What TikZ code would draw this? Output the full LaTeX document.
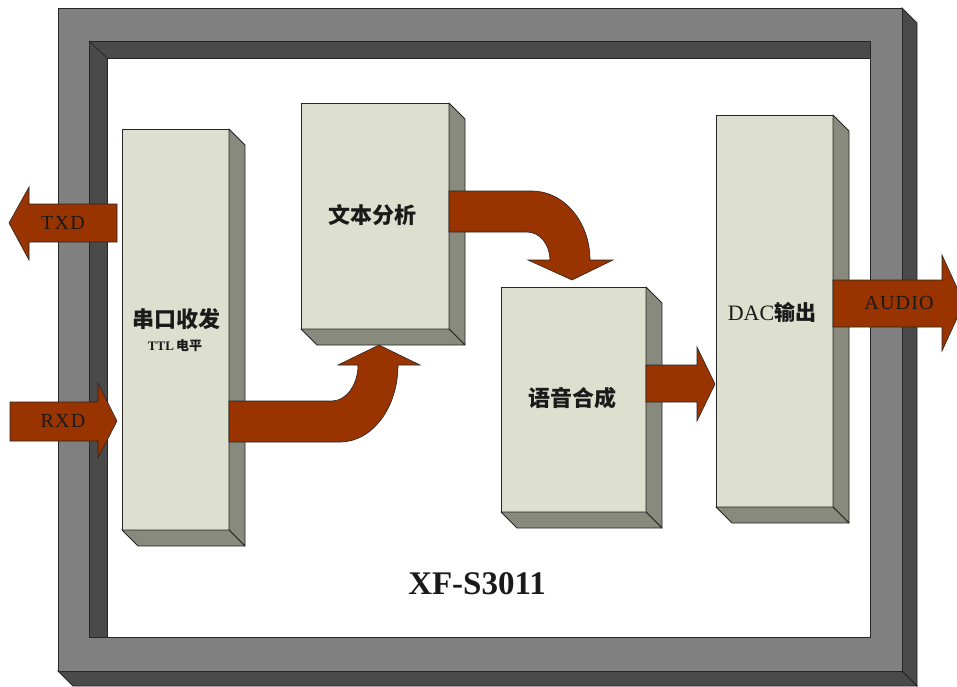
\documentclass[tikz,border=0pt]{standalone}
\usepackage{fontspec}
\setmainfont{Liberation Serif}
\newfontfamily\cjk{Noto Sans CJK SC}
\newfontfamily\arrfont[LetterSpace=6]{Liberation Serif}
\definecolor{facec}{HTML}{DDE0CE}
\definecolor{sidec}{HTML}{878A7D}
\definecolor{frameg}{HTML}{808080}
\definecolor{framed}{HTML}{4A4A4A}
\definecolor{arrowc}{HTML}{993300}
\definecolor{edgec}{HTML}{262626}
\definecolor{txtc}{HTML}{1A1A1A}
\tikzset{
  blockface/.style={draw=edgec, line width=0.8pt, fill=facec, inner sep=0pt, outer sep=0pt, anchor=north west},
  sideface/.style={draw=edgec, line width=0.8pt, fill=sidec, line join=round},
  bigarrow/.style={draw=edgec, line width=0.6pt, fill=arrowc, line join=miter},
  framefront/.style={draw=edgec, line width=0.8pt, fill=frameg},
  framedark/.style={draw=edgec, line width=0.8pt, fill=framed},
  cjklabel/.style={text=txtc, inner sep=0pt, font=\cjk\bfseries\fontsize{22}{25}\selectfont},
  arrlabel/.style={text=txtc, inner sep=0pt, font=\arrfont\fontsize{20}{24}\selectfont},
}
\begin{document}
\begin{tikzpicture}[x=1pt,y=-1pt]
\useasboundingbox (0,0) rectangle (957,686);
\fill[white] (0,0) rectangle (957,686);

% ---- outer frame ----
\draw[framedark] (902,8) -- (917,23) -- (917,686) -- (902,671) -- cycle;
\draw[framedark] (58,671) -- (902,671) -- (917,686) -- (73,686) -- cycle;
\draw[framefront] (58,8) rectangle (902,671);
\draw[framedark] (89,41) rectangle (870,637);
\draw[edgec, line width=0.8pt, fill=white] (107,58) -- (870,58) -- (870,637) -- (107,637) -- cycle;
\draw[edgec, line width=0.8pt] (89,41) -- (107,58);

% ---- blocks ----
\node[blockface, minimum width=107, minimum height=401] (b1) at (122,129) {};
\node[blockface, minimum width=148, minimum height=226] (b2) at (301,103) {};
\node[blockface, minimum width=145, minimum height=225] (b3) at (501,287) {};
\node[blockface, minimum width=117, minimum height=392] (b4) at (716,115) {};
\foreach \b in {b1,b2,b3,b4}{
  \draw[sideface] (\b.north east) -- ([shift={(16,16)}]\b.north east) -- ([shift={(16,16)}]\b.south east) -- (\b.south east) -- cycle;
  \draw[sideface] (\b.south west) -- ([shift={(16,16)}]\b.south west) -- ([shift={(16,16)}]\b.south east) -- (\b.south east) -- cycle;
}

% ---- block texts ----
\node[cjklabel] (t1) at (176,319) {串口收发};
\node[text=txtc, inner sep=0pt, font=\bfseries\fontsize{13}{15}\selectfont] (t1b) at (175,346) {TTL\,{\cjk\bfseries 电平}};
\node[cjklabel] (t2) at (372,215) {文本分析};
\node[cjklabel] (t3) at (572,398) {语音合成};
\node[text=txtc, inner sep=0pt, font=\fontsize{22}{26}\selectfont] (t4) at (772,312) {DAC{\cjk\bfseries\fontsize{21}{24}\selectfont 输出}};

% ---- arrows ----
\draw[bigarrow] (117,204) -- (29,204) -- (29,187) -- (9,223) -- (29,260) -- (29,242) -- (117,242) -- cycle;
\node[arrlabel] (txd) at (63,223) {TXD};
\draw[bigarrow] (10,402) -- (98,402) -- (98,383) -- (117,421) -- (98,458) -- (98,441) -- (10,441) -- cycle;
\node[arrlabel] (rxd) at (63,421) {RXD};
\draw[bigarrow] (b4.east |- 0,280) -- (942,280) -- (942,255) -- (964,303) -- (942,351) -- (942,327) -- (b4.east |- 0,327) -- cycle;
\node[arrlabel] (audio) at (899,303) {AUDIO};

\draw[bigarrow] (b1.east |- 0,401) -- (332,401) .. controls (346,401) and (358,385) .. (358,365) -- (338,365) -- (379,345) -- (420,365) -- (398,365) .. controls (398,408) and (372,442) .. (340,442) -- (b1.east |- 0,442) -- cycle;

\draw[bigarrow] (b2.east |- 0,191) -- (532,191) .. controls (564,191) and (590,222) .. (590,260) -- (613,260) -- (572,280) -- (528,260) -- (550,260) .. controls (550,245) and (540,232) .. (527,232) -- (b2.east |- 0,232) -- cycle;

\draw[bigarrow] (b3.east |- 0,365) -- (697,365) -- (697,347) -- (715,384) -- (697,421) -- (697,402) -- (b3.east |- 0,402) -- cycle;

% ---- title ----
\node[text=txtc, inner sep=0pt, font=\bfseries\fontsize{33}{38}\selectfont] (title) at (477,584) {XF-S3011};
\end{tikzpicture}
\end{document}
